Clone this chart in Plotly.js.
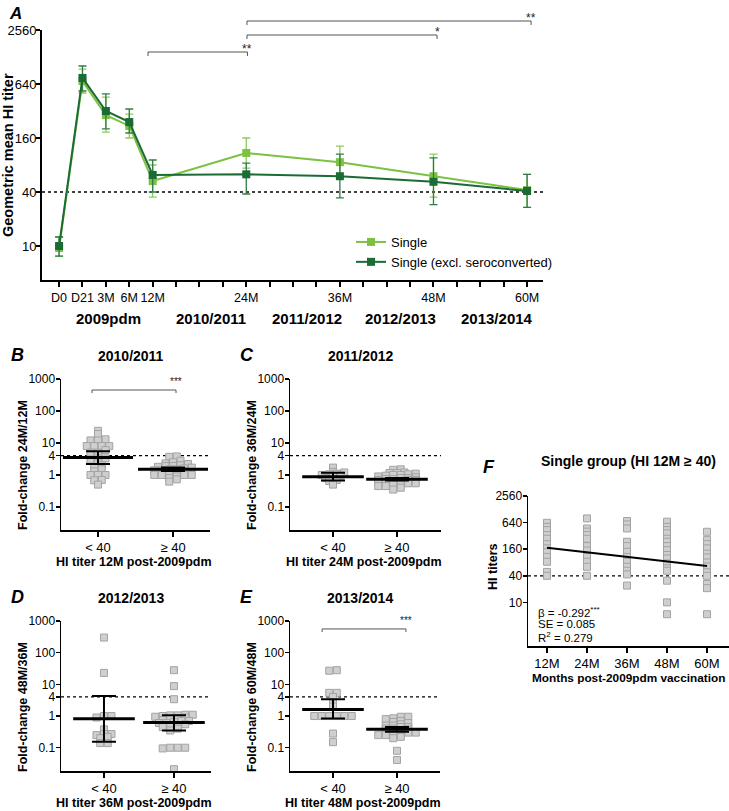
<!DOCTYPE html>
<html>
<head>
<meta charset="utf-8">
<script src="https://cdn.plot.ly/plotly-3.0.1.min.js"></script>
<style>body{margin:0;background:#fff}#chart{width:729px;height:811px}</style>
</head>
<body>
<div id="chart"></div>
<script>
// ---- Panel A: geometric mean HI titer over time ----
var timeLabels = ["D0", "D21", "3M", "6M", "12M", "24M", "36M", "48M", "60M"]
var timeSlots = [0, 1, 2, 3, 4, 8, 12, 16, 20] // tick slot of each visit (3 months per slot after 12M)
var single = [9.5, 690, 288, 218, 53, 109, 86, 60, 42]
var singleLow = [7.7, 508, 186, 160, 35, 74, 58, 35, 27]
var singleHigh = [12.6, 940, 456, 296, 80, 160, 130, 106, 63]
var excl = [10, 748, 320, 241, 62, 63, 60, 52, 41]
var exclLow = [7.7, 535, 202, 182, 40, 38, 34.5, 29, 27]
var exclHigh = [12.6, 1016, 496, 337, 91, 84, 106, 96, 63]
var seasons = ["2009pdm", "2010/2011", "2011/2012", "2012/2013", "2013/2014"]
var seasonSlots = [2.1, 6.5, 10.6, 14.6, 18.7]
var titerTicks = [10, 40, 160, 640, 2560]
var seroLimit = 40

// ---- Panels B-E: fold-change per season, split by titer < 40 / >= 40 ----
var groups = ["< 40", "≥ 40"]
var foldTicks = [0.1, 1, 4, 10, 100, 1000]
var foldLimit = 4

var bLow = [24, 19, 13, 12, 12, 8, 8, 8, 8, 6, 5, 5, 3.3, 3.3, 3, 2.3, 2, 1.8, 1.5, 1.3, 1, 1, 1, 0.7, 0.68, 0.5]
var bHigh = [3.8, 3.7, 2.8, 2.5, 2.3, 2.2, 2, 1.9, 1.9, 1.8, 1.7, 1.6, 1.5, 1.5, 1.4, 1.4, 1.3, 1.2, 1.2, 1.1, 1, 1, 1, 1, 1, 1, 0.9, 0.8, 0.73, 0.62]
var bMean = [3.5, 1.5], bCiLow = [2.2, 1.32], bCiHigh = [5.5, 1.7]

var cLow = [1.7, 1.25, 1.2, 1.1, 1.05, 1.0, 0.95, 0.9, 0.8, 0.7, 0.65, 0.5]
var cHigh = [1.5, 1.45, 1.2, 1.15, 1.15, 1.1, 1.05, 1, 1, 0.95, 0.9, 0.85, 0.8, 0.8, 0.75, 0.75, 0.7, 0.7, 0.7, 0.65, 0.65, 0.6, 0.6, 0.55, 0.55, 0.5, 0.5, 0.45, 0.45, 0.4, 0.35]
var cMean = [0.88, 0.74], cCiLow = [0.67, 0.67], cCiHigh = [1.18, 0.81]

var dLow = [300, 23, 1, 1, 0.9, 0.38, 0.27, 0.27, 0.25, 0.22, 0.2, 0.14, 0.14]
var dHigh = [28, 8.8, 3.4, 1.1, 1.1, 1.05, 1.05, 1, 0.95, 0.9, 0.85, 0.8, 0.75, 0.7, 0.7, 0.65, 0.6, 0.6, 0.55, 0.5, 0.5, 0.45, 0.4, 0.35, 0.1, 0.1, 0.095, 0.1, 0.021]
var dMean = [0.82, 0.62], dCiLow = [0.155, 0.35], dCiHigh = [4.3, 1.05]

var eLow = [28, 27, 5.4, 5.4, 4, 2.5, 2, 1, 1, 1, 1, 1, 1, 0.28, 0.15]
var eHigh = [0.95, 0.95, 0.85, 0.8, 0.7, 0.65, 0.6, 0.55, 0.5, 0.5, 0.45, 0.45, 0.4, 0.4, 0.38, 0.35, 0.35, 0.32, 0.3, 0.3, 0.28, 0.27, 0.25, 0.25, 0.22, 0.2, 0.08, 0.041]
var eMean = [1.62, 0.38], eCiLow = [0.84, 0.32], eCiHigh = [3.4, 0.45]

// ---- Panel F: single group HI titers by month ----
var months = ["12M", "24M", "36M", "48M", "60M"]
var f12 = [633, 512, 431, 334, 275, 208, 167, 137, 107, 83, 49, 40]
var f24 = [796, 471, 400, 334, 275, 188, 149, 107, 83, 64, 40]
var f36 = [696, 581, 471, 236, 188, 140, 107, 83, 64, 52, 43, 24]
var f48 = [670, 512, 431, 365, 275, 236, 188, 152, 118, 99, 76, 59, 52, 31, 10, 5.4]
var f60 = [397, 257, 208, 167, 127, 104, 80, 65, 48, 40, 26, 21, 5.4]
var fitEnds = [172, 67] // regression line at 12M and 60M

var lightGreen = "#7cc143"
var darkGreen = "#1b6b34"
var font = "Arial, 'Liberation Sans', sans-serif"

var W = 729, H = 811
function fx(p) { return p / W }
function fy(p) { return 1 - p / H }
// plot boxes in pixels: left, top, right, bottom
var boxes = {
  "": [42, 30, 543, 280],
  "2": [61, 379, 210, 530],
  "3": [290, 379, 441, 530],
  "4": [61, 621, 211, 771],
  "5": [290, 621, 440, 771],
  "6": [528, 496, 729, 646]
}

function axis(extra) {
  var a = {
    showline: true, linecolor: "#000", linewidth: 1.5, ticks: "outside", ticklen: 4,
    tickwidth: 1.5, tickcolor: "#000", showgrid: false, zeroline: false, fixedrange: true,
    tickangle: 0, tickfont: {size: 12, color: "#000"}
  }
  for (var k in extra) a[k] = extra[k]
  return a
}
function diff(a, b) { return a.map(function (v, i) { return v - b[i] }) }
function log10(v) { return Math.log(v) / Math.LN10 }

// simple column-scatter layout: points of similar value are spread side by side
function swarm(vals, center, step) {
  var idx = vals.map(function (v, i) { return i }).sort(function (a, b) { return vals[a] - vals[b] })
  var xs = new Array(vals.length), row = [], start = null
  function flush() {
    row.forEach(function (i, k) { xs[i] = center + (k - (row.length - 1) / 2) * step })
    row = []
  }
  idx.forEach(function (i) {
    var l = log10(vals[i])
    if (start === null || l - start > 0.09 || row.length >= 6) { flush(); start = l }
    row.push(i)
  })
  flush()
  return xs
}

var traces = []
var annotations = []
var shapes = []
var layout = {
  width: W, height: H, margin: {l: 0, r: 0, t: 0, b: 0},
  paper_bgcolor: "#fff", plot_bgcolor: "#fff",
  font: {family: font, color: "#000"},
  showlegend: true,
  legend: {x: fx(351), y: fy(227), xanchor: "left", yanchor: "top", font: {size: 13}, bgcolor: "rgba(0,0,0,0)"}
}

function label(text, x, y, size, opts) {
  var a = {text: text, x: x, y: y, xref: "paper", yref: "paper", showarrow: false, font: {size: size, color: "#000"}, xanchor: "center", yanchor: "middle"}
  for (var k in opts) a[k] = opts[k]
  annotations.push(a)
}
function domains(n) {
  var b = boxes[n]
  return {x: [fx(b[0]), fx(b[2])], y: [fy(b[3]), fy(b[1])]}
}

// ---------- Panel A ----------
var dA = domains("")
var tickText = []
for (var s = 0; s <= 20; s++) {
  var j = timeSlots.indexOf(s)
  tickText.push(j >= 0 ? timeLabels[j] : "")
}
var slotsAll = tickText.map(function (t, i) { return i })
layout.xaxis = axis({domain: dA.x, anchor: "y", range: [-0.73, 20.68], tickmode: "array", tickvals: slotsAll, ticktext: tickText, ticklen: 5, linewidth: 2, tickwidth: 2, tickfont: {size: 12.5}})
layout.yaxis = axis({domain: dA.y, anchor: "x", type: "log", range: [log10(4.18), log10(2560)], tickmode: "array", tickvals: titerTicks, ticktext: titerTicks.map(String), ticklen: 4, linewidth: 2, tickwidth: 2, tickfont: {size: 13}, ticklabelstandoff: -3})

traces.push({x: [-0.73, 20.68], y: [seroLimit, seroLimit], mode: "lines", line: {color: "#000", width: 1.3, dash: "dot"}, showlegend: false, hoverinfo: "skip", xaxis: "x", yaxis: "y"})
traces.push({
  x: timeSlots, y: single, name: "Single", type: "scatter", mode: "lines+markers",
  line: {color: lightGreen, width: 2}, marker: {symbol: "square", size: 8, color: lightGreen},
  error_y: {type: "data", symmetric: false, array: diff(singleHigh, single), arrayminus: diff(single, singleLow), width: 4, thickness: 1.3, color: "#8fcc5a"},
  xaxis: "x", yaxis: "y"
})
traces.push({
  x: timeSlots, y: excl, name: "Single (excl. seroconverted)", type: "scatter", mode: "lines+markers",
  line: {color: darkGreen, width: 2}, marker: {symbol: "square", size: 8, color: darkGreen},
  error_y: {type: "data", symmetric: false, array: diff(exclHigh, excl), arrayminus: diff(excl, exclLow), width: 4, thickness: 1.3, color: "#2f7d45"},
  xaxis: "x", yaxis: "y"
})

// significance brackets in panel A: [from slot, to slot, height (fraction of plot), stars]
var bracketsA = [[3.8, 8.05, 0.912, "**"], [8.03, 16.15, 0.98, "*"], [8.03, 20.17, 1.036, "**"]]
function bracket(xr, yr, x0, x1, y, drop, stars, size, lift) {
  var st = {color: "#555", width: 1}
  shapes.push({type: "line", xref: xr, yref: yr, x0: x0, x1: x1, y0: y, y1: y, line: st})
  shapes.push({type: "line", xref: xr, yref: yr, x0: x0, x1: x0, y0: y, y1: y - drop, line: st})
  shapes.push({type: "line", xref: xr, yref: yr, x0: x1, x1: x1, y0: y, y1: y - drop, line: st})
  annotations.push({text: stars, x: x1, y: y + lift, xref: xr, yref: yr, showarrow: false, font: {size: size, color: "#222"}, xanchor: "center", yanchor: "middle"})
}
bracketsA.forEach(function (b) { bracket("x", "y domain", b[0], b[1], b[2], 0.016, b[3], 12, 0.012) })

seasons.forEach(function (t, i) {
  annotations.push({text: "<b>" + t + "</b>", x: seasonSlots[i], y: fy(318), xref: "x", yref: "paper", showarrow: false, font: {size: 15, color: "#000"}})
})
label("<b><i>A</i></b>", fx(7), fy(13), 17, {xanchor: "left"})
label("<b>Geometric mean HI titer</b>", fx(8), fy(155), 14.5, {textangle: -90})

// ---------- Panels B-E ----------
function foldPanel(n, letter, title, yTitle, xTitle, lo, hi, mean, ciLow, ciHigh, rangeX, rangeY, lineW, sig) {
  var d = domains(n), b = boxes[n]
  var xr = "x" + n, yr = "y" + n
  var step = 7.5 * (rangeX[1] - rangeX[0]) / (b[2] - b[0])
  layout["xaxis" + n] = axis({domain: d.x, anchor: yr, range: rangeX, tickmode: "array", tickvals: [0, 1], ticktext: groups, ticklen: 5, tickfont: {size: 13}})
  layout["yaxis" + n] = axis({domain: d.y, anchor: xr, type: "log", range: rangeY, tickmode: "array", tickvals: foldTicks, ticktext: foldTicks.map(String), ticklabelstandoff: -2})
  traces.push({x: rangeX, y: [foldLimit, foldLimit], mode: "lines", line: {color: "#000", width: 1.2, dash: "dot"}, showlegend: false, hoverinfo: "skip", xaxis: xr, yaxis: yr})
  ;[lo, hi].forEach(function (vals, g) {
    traces.push({
      x: swarm(vals, g, step), y: vals, mode: "markers", showlegend: false, hoverinfo: "skip",
      marker: {symbol: "square", size: 7, color: "#cfcfcf", line: {color: "#a3a3a3", width: 1}},
      xaxis: xr, yaxis: yr
    })
  })
  traces.push({
    x: [0, 1], y: mean, mode: "markers", showlegend: false, hoverinfo: "skip",
    marker: {symbol: "line-ew", size: lineW, color: "#000", line: {color: "#000", width: 3}},
    error_y: {type: "data", symmetric: false, array: diff(ciHigh, mean), arrayminus: diff(mean, ciLow), width: 12, thickness: 2, color: "#000"},
    xaxis: xr, yaxis: yr
  })
  if (sig) bracket(xr, yr + " domain", sig[0], sig[1], sig[2], 0.02, sig[3], 10, 0.055)
  label("<b><i>" + letter + "</i></b>", fx(b[0] - 52), fy(b[1] - 24), 18, {xanchor: "left"})
  label("<b>" + title + "</b>", fx((b[0] + b[2]) / 2 - 5), fy(b[1] - 23), 14)
  label("<b>" + yTitle + "</b>", fx(b[0] - 38), fy(b[1] + 86), 12.5, {textangle: -90})
  label("<b>" + xTitle + "</b>", fx((b[0] + b[2]) / 2 - 2), fy(b[3] + 32), 12.5)
}

foldPanel("2", "B", "2010/2011", "Fold-change 24M/12M", "HI titer 12M post-2009pdm", bLow, bHigh, bMean, bCiLow, bCiHigh, [-0.493, 1.493], [-1.72, 3], 50, [-0.08, 1.04, 0.927, "***"])
foldPanel("3", "C", "2011/2012", "Fold-change 36M/24M", "HI titer 24M post-2009pdm", cLow, cHigh, cMean, cCiLow, cCiHigh, [-0.672, 1.688], [-1.72, 3], 44, null)
foldPanel("4", "D", "2012/2013", "Fold-change 48M/36M", "HI titer 36M post-2009pdm", dLow, dHigh, dMean, dCiLow, dCiHigh, [-0.614, 1.529], [-1.735, 3], 44, null)
foldPanel("5", "E", "2013/2014", "Fold-change 60M/48M", "HI titer 48M post-2009pdm", eLow, eHigh, eMean, eCiLow, eCiHigh, [-0.672, 1.672], [-1.735, 3], 44, [-0.17, 1.14, 0.947, "***"])

// ---------- Panel F ----------
var dF = domains("6")
var fRangeX = [-0.475, 4.55]
layout.xaxis6 = axis({domain: dF.x, anchor: "y6", range: fRangeX, tickmode: "array", tickvals: [0, 1, 2, 3, 4], ticktext: months, ticklen: 5, tickfont: {size: 13}})
layout.yaxis6 = axis({domain: dF.y, anchor: "x6", type: "log", range: [0.013, log10(2560)], tickmode: "array", tickvals: titerTicks, ticktext: titerTicks.map(String), ticklabelstandoff: -2})
traces.push({x: fRangeX, y: [seroLimit, seroLimit], mode: "lines", line: {color: "#000", width: 1.2, dash: "dot"}, showlegend: false, hoverinfo: "skip", xaxis: "x6", yaxis: "y6"})
;[f12, f24, f36, f48, f60].forEach(function (vals, i) {
  traces.push({
    x: vals.map(function () { return i }), y: vals, mode: "markers", showlegend: false, hoverinfo: "skip",
    marker: {symbol: "square", size: 7, color: "#cfcfcf", line: {color: "#a3a3a3", width: 1}},
    xaxis: "x6", yaxis: "y6"
  })
})
traces.push({x: [0, 4], y: fitEnds, mode: "lines", line: {color: "#000", width: 2}, showlegend: false, hoverinfo: "skip", xaxis: "x6", yaxis: "y6"})
label("<b><i>F</i></b>", fx(481), fy(467), 18, {xanchor: "left"})
label("<b>Single group (HI 12M ≥ 40)</b>", fx(628), fy(461), 14)
label("<b>HI titers</b>", fx(493), fy(567), 12.5, {textangle: -90})
label("<b>Months post-2009pdm vaccination</b>", fx(628), fy(678), 11.8)
label("β = -0.292<sup>***</sup>", fx(536), fy(612), 11.5, {xanchor: "left"})
label("SE = 0.085", fx(536), fy(624), 11.5, {xanchor: "left"})
label("R<sup>2</sup> = 0.279", fx(536), fy(637), 11.5, {xanchor: "left"})

layout.annotations = annotations
layout.shapes = shapes

Plotly.newPlot("chart", traces, layout, {displayModeBar: false, staticPlot: true})
</script>
</body>
</html>
